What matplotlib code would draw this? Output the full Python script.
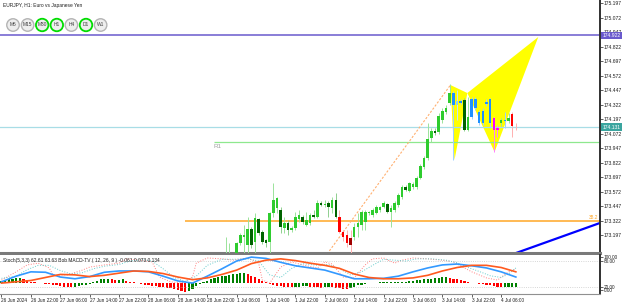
import matplotlib
matplotlib.use('Agg')
import matplotlib.pyplot as plt
from matplotlib.patches import Ellipse, Polygon

plt.rcParams['font.family'] = ['Liberation Sans', 'DejaVu Sans']

# ---- price candles (H1 bars, index 61..140) ----
FIRST = 61
opens = [172.98, 172.96, 173.02, 173.00, 173.132, 173.20, 173.115, 173.253, 173.141, 173.339,
         173.227, 173.158, 173.141, 173.391, 173.434, 173.417, 173.262, 173.305, 173.244, 173.262,
         173.339, 173.356, 173.287, 173.305, 173.373, 173.356, 173.477, 173.46, 173.477, 173.434,
         173.503, 173.356, 173.227, 173.201, 173.175, 173.184, 173.270, 173.287, 173.313, 173.391,
         173.373, 173.39, 173.417, 173.443, 173.468, 173.40, 173.417, 173.46, 173.53, 173.615,
         173.58, 173.615, 173.615, 173.693, 173.787, 173.865, 174.04, 174.10, 174.09, 174.19,
         174.26, 174.34, 174.425, 174.36, 174.36, 174.366, 174.11, 174.22, 174.37, 174.26,
         174.17, 174.33, 174.37, 174.21, 174.11, 174.17, 174.19, 174.18, 174.24, 174.13]
closes = [173.02, 173.03, 172.99, 173.132, 173.201, 173.18, 173.253, 173.115, 173.348, 173.218,
          173.141, 173.132, 173.391, 173.503, 173.52, 173.270, 173.305, 173.244, 173.262, 173.356,
          173.373, 173.313, 173.330, 173.373, 173.356, 173.477, 173.460, 173.47, 173.443, 173.503,
          173.356, 173.227, 173.184, 173.132, 173.115, 173.270, 173.305, 173.400, 173.400, 173.40,
          173.417, 173.443, 173.443, 173.477, 173.40, 173.43, 173.477, 173.546, 173.615, 173.59,
          173.65, 173.64, 173.693, 173.796, 173.865, 174.029, 174.10, 174.08, 174.23, 174.27,
          174.30, 174.425, 174.32, 174.32, 174.34, 174.11, 174.218, 174.37, 174.30, 174.167,
          174.27, 174.35, 174.167, 174.107, 174.12, 174.19, 174.18, 174.21, 174.14, 174.131]
highs = [173.184, 173.132, 173.03, 173.14, 173.218, 173.287, 173.356, 173.27, 173.391, 173.35,
         173.24, 173.17, 173.40, 173.650, 173.53, 173.44, 173.356, 173.33, 173.28, 173.40,
         173.417, 173.37, 173.40, 173.39, 173.417, 173.503, 173.49, 173.503, 173.49, 173.529,
         173.563, 173.417, 173.24, 173.244, 173.244, 173.305, 173.391, 173.417, 173.417, 173.41,
         173.43, 173.46, 173.45, 173.49, 173.48, 173.46, 173.49, 173.56, 173.63, 173.63,
         173.66, 173.66, 173.71, 173.81, 173.88, 174.167, 174.12, 174.12, 174.25, 174.30,
         174.32, 174.503, 174.44, 174.45, 174.37, 174.38, 174.39, 174.39, 174.39, 174.28,
         174.30, 174.37, 174.38, 174.22, 174.15, 174.21, 174.26, 174.25, 174.26, 174.17]
lows = [172.95, 172.94, 172.92, 172.98, 173.115, 173.05, 173.05, 173.09, 173.05, 173.20,
        173.12, 173.10, 173.05, 173.356, 173.39, 173.218, 173.218, 173.20, 173.23, 173.244,
        173.31, 173.30, 173.28, 173.29, 173.35, 173.348, 173.45, 173.443, 173.356, 173.391,
        173.35, 173.218, 173.15, 173.098, 173.03, 173.158, 173.184, 173.244, 173.244, 173.37,
        173.36, 173.38, 173.40, 173.43, 173.39, 173.27, 173.40, 173.44, 173.51, 173.58,
        173.57, 173.60, 173.60, 173.68, 173.77, 173.85, 174.00, 174.06, 174.07, 174.17,
        174.24, 174.32, 173.848, 174.19, 174.33, 174.10, 174.10, 174.20, 174.28, 174.15,
        174.15, 174.31, 174.12, 173.917, 174.05, 174.14, 174.12, 174.17, 174.05, 174.11]
candle_kind = ("ggdggggdgd" "ddgggdgdgg" "gdggdgdgdg" "drrrkggggg"
               "ggggdggggd" "gggggggdgg" "ggbcbdgbbb" "bbbmmgbgrr")

BODY = {'g': '#2ecc2e', 'd': '#006400', 'r': '#ff0000', 'k': '#a00000',
        'b': '#1e90ff', 'c': '#87cefa', 'm': '#ff00ff'}
WICK = {'g': '#9be39b', 'd': '#8fcf8f', 'r': '#ffb0b0', 'k': '#ffb0b0',
        'b': '#9fd0ff', 'c': '#bfe6ff', 'm': '#ff80ff'}

# ---- objects on the price chart ----
price_ticks = [175.197, 175.072, 174.947, 174.822, 174.697, 174.572, 174.447, 174.322, 174.197,
               174.072, 173.947, 173.822, 173.697, 173.572, 173.447, 173.322, 173.197]
level_purple = 174.922
level_bid = 174.131
level_r1 = 174.003
level_fib = 173.32
pattern_x = [122.2, 123.3, 126.8, 134.2, 146.1]
pattern_y = [174.494, 173.848, 174.425, 173.917, 174.908]
fib_line_x = [88, 122.2]
fib_line_y = [173.01, 174.494]
trend_x = [136, 166]
trend_y = [173.0, 173.34]

# ---- indicator window ----
time_labels = ["26 Jun 2024", "26 Jun 22:00", "27 Jun 06:00", "27 Jun 14:00", "27 Jun 22:00",
               "28 Jun 06:00", "28 Jun 14:00", "28 Jun 22:00", "1 Jul 06:00", "1 Jul 14:00",
               "1 Jul 22:00", "2 Jul 06:00", "2 Jul 14:00", "2 Jul 22:00", "3 Jul 06:00",
               "3 Jul 14:00", "3 Jul 22:00", "4 Jul 06:00"]
time_pos = [0, 8, 16, 24, 32, 40, 48, 56, 64, 72, 80, 88, 96, 104, 112, 120, 128, 136]

macd_x = [0, 4, 8, 12, 16, 20, 24, 28, 32, 36, 40, 44, 48, 52, 56, 60, 64, 68,
          72, 76, 80, 84, 88, 92, 96, 100, 104, 108, 112, 116, 120, 124, 128, 132, 136, 140]
macd_main = [32, 45, 55, 54, 43, 39, 44, 54, 57, 57, 55, 45, 34, 29, 45, 62, 80, 89,
             86, 77, 69, 64, 59, 49, 39, 39, 40, 45, 55, 64, 71, 73, 69, 64, 55, 43]
macd_signal = [29, 32, 35, 42, 49, 48, 44, 47, 52, 57, 56, 51, 43, 37, 41, 49, 59, 74,
               82, 85, 81, 75, 70, 63, 50, 42, 39, 39, 41, 47, 57, 65, 70, 70, 65, 55]

stoch_x = [0, 4, 7, 10, 13, 14, 18, 22, 24, 28, 32, 34, 38, 41, 43, 46, 49, 52, 53, 56,
           60, 63, 67, 70, 71, 73, 76, 79, 82, 86, 88, 90, 93, 96, 99, 101, 104, 107,
           109, 112, 116, 120, 123, 126, 128, 132, 135, 138, 140]
stoch_main = [36, 55, 71, 75, 64, 48, 48, 59, 66, 71, 75, 85, 82, 78, 43, 32, 29, 43, 75, 87,
              85, 82, 87, 75, 36, 29, 66, 78, 71, 64, 78, 73, 43, 41, 71, 85, 87, 75,
              82, 87, 85, 82, 78, 64, 55, 41, 36, 55, 62]
sig_x = [0, 4, 7, 10, 13, 16, 19, 22, 25, 28, 32, 35, 38, 41, 44, 47, 50, 53, 56, 60,
         63, 67, 70, 73, 76, 79, 82, 86, 89, 92, 95, 98, 101, 104, 107, 110, 113, 117,
         121, 124, 127, 130, 133, 136, 138, 140]
stoch_signal = [40, 45, 60, 70, 70, 58, 50, 53, 62, 68, 72, 80, 83, 80, 62, 42, 33, 45, 70, 84,
                84, 85, 80, 48, 42, 63, 74, 70, 72, 62, 48, 55, 70, 84, 82, 80, 85, 85,
                82, 76, 65, 56, 46, 42, 50, 64]

hist = [5, 7, 9, 11, 12, 12, 10,
        7, 4, 2, 1, 0.5, -0.5, -1.5,
        -3, -5, -7, -8, -9, -9,
        -8, -7, -5, -3, -1,
        3, 6, 9, 11, 11, 10,
        8, 8, 9, 6, 4, 2, 0.5,
        -2, -4, -5, -6, -7, -8, -9, -10, -11, -13, -15, -17, -19, -17,
        -12, -6, -1, 3, 6, 9, 12, 14, 16, 18, 19, 21, 22, 23, 23,
        21, 18, 14, 10, 6, 2,
        -2, -4, -6, -7, -8, -9, -9, -8, -8, -7, -7, -8, -9, -9,
        -10, -9, -8, -9, -10, -11, -12, -12, -11,
        -8, -5, -3, -1,
        1, 1, 1.5, 2, 2, 2, 2.5, 3, 3, 3, 4, 5,
        6, 7, 8, 9, 10, 11, 12, 13, 14, 14,
        13, 11, 9, 7, 5, 3,
        1, 0.5, -0.5, -1,
        -3, -5, -7, -8, -9, -9, -9, -8, -8]
hist_kind = ("ggggggr" "rrrrrrr" "rrrrrr" "ggggg" "gggggr" "rggrrrr"
             "rrrrrrrrrrrrrg" "ggggggggggggggg" "rrrrrr" "rrrrrrrggggrrr"
             "rggrrrrrg" "gggg" "gggggggggggg" "gggggggggg" "rrrrrr" "rrrr" "rrrrrgggg")
HIST_ZERO = 28.5

timeframes = ["M5", "M15", "M30", "H1", "H4", "D1", "W1"]
tf_active = ["M30", "H1", "D1"]

W, H = 625, 305
XMIN, XMAX = -0.4, 162.9

fig = plt.figure(figsize=(W / 100, H / 100), dpi=100)
ax = fig.add_axes([0, 1 - 253 / H, 600 / W, 253 / H])
ax2 = fig.add_axes([0, 1 - 294 / H, 600 / W, 39 / H])

# ---- main price window ----
ax.set_xlim(XMIN, XMAX)
ax.set_ylim(173.046, 175.227)

ax.add_patch(Polygon(list(zip(pattern_x[:3], pattern_y[:3])), closed=True,
                     facecolor='#ffff00', edgecolor='none', zorder=1))
ax.add_patch(Polygon(list(zip(pattern_x[2:], pattern_y[2:])), closed=True,
                     facecolor='#ffff00', edgecolor='none', zorder=1))

ax.axhline(level_purple, color='#6a5acd', lw=1.1, zorder=2)
ax.axhline(level_bid, color='#a8dde6', lw=0.9, zorder=2)
ax.hlines(level_r1, 57.8, XMAX, color='#8ee88e', lw=0.9, zorder=2)
ax.hlines(level_fib, 49.9, XMAX, color='#ffa726', lw=1.1, zorder=2)
ax.plot(fib_line_x, fib_line_y, color='#ffb070', lw=0.8, ls=(0, (2, 1.5)), zorder=2)
ax.plot(trend_x, trend_y, color='#0000ff', lw=1.6, zorder=2)

ax.text(57.8, 173.965, "R1", fontsize=4.5, color='#a0a0a0', va='center', ha='left')
ax.text(162.5, 173.35, "38.2", fontsize=3.5, color='#ffa726', va='center', ha='right')

for n in range(len(opens)):
    i = FIRST + n
    k = candle_kind[n]
    ax.vlines(i, lows[n], highs[n], color=WICK[k], lw=0.7, zorder=3)
    bottom = min(opens[n], closes[n])
    height = max(abs(closes[n] - opens[n]), 0.006)
    ax.bar(i, height, bottom=bottom, width=0.7, color=BODY[k], lw=0, zorder=4)

ax.yaxis.tick_right()
ax.set_yticks(price_ticks)
ax.set_yticklabels(['%.3f' % v for v in price_ticks])
ax.tick_params(axis='y', labelsize=3.6, length=2, width=0.5, pad=0.8, colors='#202020')
ax.set_xticks([])
for s in ['left', 'top']:
    ax.spines[s].set_visible(False)
ax.spines['right'].set_color('#303030')
ax.spines['right'].set_linewidth(1.4)
ax.spines['bottom'].set_color('#7a7a7a')
ax.spines['bottom'].set_linewidth(2.2)

ax.text(1.004, level_purple, "174.922", transform=ax.get_yaxis_transform(), fontsize=3.6,
        color='white', va='center', ha='left',
        bbox=dict(boxstyle='square,pad=0.25', facecolor='#6a5acd', edgecolor='none'))
ax.text(1.004, level_bid, "174.131", transform=ax.get_yaxis_transform(), fontsize=3.6,
        color='white', va='center', ha='left',
        bbox=dict(boxstyle='square,pad=0.25', facecolor='#3aa59f', edgecolor='none'))

# ---- indicator window ----
ax2.set_xlim(XMIN, XMAX)
ax2.set_ylim(3.8, 93.9)
ax2.axhline(80, color='#c8c8c8', lw=0.6, ls=':')
ax2.axhline(20, color='#c8c8c8', lw=0.6, ls=':')
ax2.bar(range(len(hist)), hist, bottom=HIST_ZERO, width=0.6, lw=0,
        color=['#008000' if c == 'g' else '#ff0000' for c in hist_kind])
ax2.plot(stoch_x, stoch_main, color='#ff8080', lw=0.7, ls=':')
ax2.plot(sig_x, stoch_signal, color='#66cccc', lw=0.7, ls=':')
ax2.plot(macd_x, macd_main, color='#3399ff', lw=1.2)
ax2.plot(macd_x, macd_signal, color='#ff5a1f', lw=1.2)
ax2.text(0.005, 0.93, "Stoch(5,3,3) 62.61 63.63 Bob MACD-TV ( 12, 26, 9 ) -0.061 0.073 0.134",
         transform=ax2.transAxes, fontsize=3.5, va='top', ha='left', color='#202020')

ax2.yaxis.tick_right()
ax2.set_yticks([89.3, 80, 20, 13])
ax2.set_yticklabels(['100.00', '80.00', '20.00', '0.00'])
ax2.tick_params(axis='y', labelsize=3.4, length=2, width=0.5, pad=0.8, colors='#202020')
ax2.set_xticks(time_pos)
ax2.set_xticklabels(time_labels)
ax2.tick_params(axis='x', labelsize=3.4, length=2, width=0.5, pad=1, colors='#202020')
for lab in ax2.get_xticklabels():
    lab.set_ha('left')
for s in ['left', 'top']:
    ax2.spines[s].set_visible(False)
ax2.spines['right'].set_color('#303030')
ax2.spines['right'].set_linewidth(1.4)
ax2.spines['bottom'].set_color('#909090')
ax2.spines['bottom'].set_linewidth(0.8)

# ---- header: symbol and timeframe buttons ----
fig.text(3 / W, 1 - 3 / H, "EURJPY, H1: Euro vs Japanese Yen", fontsize=3.5,
         va='top', ha='left', color='#202020')
for n, tf in enumerate(timeframes):
    cx = (13 + n * 14.6) / W
    cy = 1 - 25 / H
    edge = '#00dd00' if tf in tf_active else '#b4b4b4'
    fig.patches.append(Ellipse((cx, cy), 12.5 / W, 12.5 / H, transform=fig.transFigure,
                               facecolor='#eeeeee', edgecolor=edge,
                               lw=1.3 if tf in tf_active else 1.0))
    fig.text(cx, cy, tf, fontsize=3.5, ha='center', va='center', color='#404040')

fig.savefig('out.png', dpi=100)
